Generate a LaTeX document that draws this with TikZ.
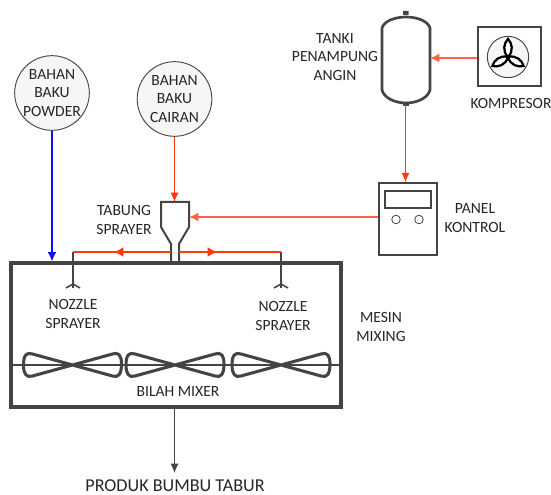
\documentclass[tikz,border=0pt]{standalone}
\usepackage{fontspec}
\setmainfont{Carlito}
\usetikzlibrary{arrows.meta}
\definecolor{Wall}{HTML}{444444}
\definecolor{Feed}{HTML}{FF3A0A}
\definecolor{Air}{HTML}{FF6340}
\definecolor{Powder}{HTML}{0F0FFF}
\definecolor{Ball}{HTML}{F6F6F6}
\tikzset{
  wall/.style={draw=Wall,line width=2.3pt},
  thin wall/.style={draw=Wall,line width=1.2pt},
  ball/.style={circle,draw=Wall,line width=.7pt,fill=Ball,minimum size=56pt,inner sep=0pt,align=center},
  feedline/.style={Feed,line width=.8pt,-{Latex[length=7pt,width=6pt]}},
  airline/.style={Air,line width=1pt,-{Latex[length=7pt,width=6.5pt]}},
  label/.style={font=\fontsize{11.7}{13.6}\selectfont,text=black!85,align=center}
}
\begin{document}
\begin{tikzpicture}[x=.75pt,y=-.75pt,>=Latex]
\useasboundingbox (0,0) rectangle (551,495);
\fill[white] (0,0) rectangle (551,495);
% sources
\node[ball,label] (powder) at (52,93) {BAHAN\\BAKU\\POWDER};
\node[ball,label] (cairan) at (174.5,99) {BAHAN\\BAKU\\CAIRAN};
% mixer body
\node[wall,minimum width=247.5pt,minimum height=108pt,inner sep=0pt] (mixer) at (176,335) {};
\coordinate (bladeL) at (11,365);
\coordinate (bladeR) at (341,365);
\draw[Wall,line width=.8pt] (bladeL)--(bladeR);
\foreach \cx in {72.5,175,281}{
  \draw[wall,line join=round,shift={(\cx,365)}] (0,0)--(40,-11) .. controls (46,-13) and (49,-10) .. (49,-1) .. controls (49,9) and (46,13) .. (40,11)--(-40,-11) .. controls (-46,-13) and (-49,-10) .. (-49,0) .. controls (-49,9) and (-46,13) .. (-40,11)--cycle;
}
% sprayer tube
\coordinate (tubeTop) at (174.5,202);
\coordinate (tubeSide) at (189,217);
\draw[wall,line width=1.5pt] (171,263)--(171,244)--(161,227)--(161,202)--(189,202)--(189,227)--(179,244)--(179,263);
% nozzle pipes
\coordinate (jointL) at (171,252);
\coordinate (jointR) at (179,252);
\coordinate (pipeL) at (73,252);
\coordinate (pipeR) at (281,252);
\coordinate (midL) at (114,252);
\coordinate (midR) at (217,252);
\coordinate (nozzleL) at (73,288);
\coordinate (nozzleR) at (281,288);
\coordinate (forkL) at (73,284);
\coordinate (forkR) at (281,284);
\draw[thin wall,line width=1.3pt] (pipeL)--(nozzleL) (pipeR)--(nozzleR);
\draw[thin wall] (66,288)--(forkL)--(80,288) (274,288)--(forkR)--(288,288);
\draw[Feed,line width=1.3pt] (jointL)--(pipeL) (jointR)--(pipeR);
\draw[feedline,line width=1.3pt,-{Latex[length=7pt,width=7.5pt]}] (jointL)--(midL);
\draw[feedline,line width=1.3pt,-{Latex[length=7pt,width=7.5pt]}] (jointR)--(midR);
% tank
\coordinate (tankE) at (430,58);
\coordinate (tankS) at (405.5,105);
\draw[wall,line width=2pt] (382,28) .. controls (384,21) and (395,17) .. (406,17) .. controls (417,17) and (428,21) .. (430,28)--(430,90) .. controls (428,98) and (417,103) .. (406,103) .. controls (395,103) and (384,98) .. (382,90)--cycle;
\fill[Wall] (403,15) rectangle (408.5,11) (403,102) rectangle (409,106);
% compressor
\node[thin wall,minimum width=47pt,minimum height=44pt,inner sep=0pt] (komp) at (509.5,56.5) {};
\node[circle,draw=Wall,line width=.7pt,fill=Ball,minimum size=31pt,inner sep=0pt] (fan) at (508,57) {};
\foreach \r in {0,120,240}{
  \draw[draw=black,line width=1.7pt,fill=white,shift={(fan.center)},rotate=\r] (0,0) .. controls (-6,-6) and (-4,-14) .. (0,-18) .. controls (4,-14) and (6,-6) .. (0,0);
}
% panel
\node[thin wall,minimum width=43.5pt,minimum height=54pt,inner sep=0pt] (panel) at (408,219) {};
\node[thin wall,minimum width=34.5pt,minimum height=12.8pt,inner sep=0pt] (display) at (408,199.5) {};
\node[circle,draw=Wall,line width=.6pt,minimum size=6.4pt,inner sep=0pt] (knobA) at (396,219.5) {};
\node[circle,draw=Wall,line width=.6pt,minimum size=6.4pt,inner sep=0pt] (knobB) at (419,219.5) {};
% flows
\draw[Powder,line width=1.1pt,-{Latex[length=7pt,width=6.5pt]}] (powder.south)--(mixer.north -| powder.south);
\draw[feedline] (cairan.south)--(tubeTop);
\draw[airline] (komp.west |- tankE)--(tankE);
\draw[feedline] (tankS)--(panel.north -| tankS);
\draw[airline] (panel.west |- tubeSide)--(tubeSide);
\coordinate (produk) at (174.5,473);
\draw[Wall,line width=.8pt,-{Latex[length=7pt,width=6pt]}] (mixer.south -| produk)--(produk);
% labels
\node[label] (lbTanki) at (335,57) {TANKI\\PENAMPUNG\\ANGIN};
\node[label] (lbKomp) at (511,103) {KOMPRESOR};
\node[label] (lbPanel) at (475,218) {PANEL\\KONTROL};
\node[label] (lbTabung) at (124,220) {TABUNG\\SPRAYER};
\node[label] (lbNozL) at (73,314) {NOZZLE\\SPRAYER};
\node[label] (lbNozR) at (283,316) {NOZZLE\\SPRAYER};
\node[label] (lbMesin) at (381,327) {MESIN\\MIXING};
\node[label] (lbBilah) at (178,391) {BILAH MIXER};
\node[label,font=\fontsize{13.6}{15}\selectfont] (lbProduk) at (175,486) {PRODUK BUMBU TABUR};
\end{tikzpicture}
\end{document}
